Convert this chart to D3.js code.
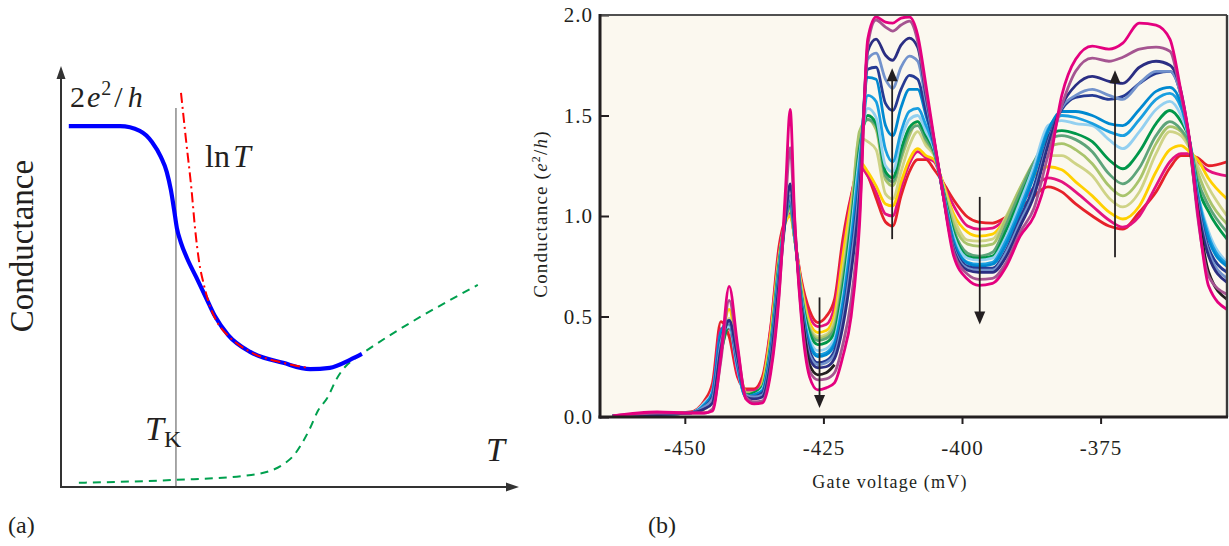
<!DOCTYPE html>
<html>
<head>
<meta charset="utf-8">
<script src="https://cdn.jsdelivr.net/npm/d3@7"></script>
<style>
  body { margin: 0; background: #fff; }
  svg { display: block; }
  text { font-family: "Liberation Serif", "Times New Roman", serif; fill: #231f20; }
</style>
</head>
<body>
<svg id="chart" width="1229" height="546"></svg>
<script>
// ---- panel (a): schematic, arbitrary units (T, G) ----
const kondoCurve = [[0.17,8.57],[1.29,8.57],[1.72,8.46],[1.99,8.19],[2.18,7.84],[2.31,7.48],[2.4,7.05],
  [2.47,6.58],[2.53,6.15],[2.62,5.8],[2.75,5.44],[2.95,4.99],[3.17,4.49],[3.36,4.06],[3.65,3.61],
  [4.13,3.21],[4.85,2.95],[5.44,2.8],[5.87,2.83],[6.31,3.02],[6.57,3.16]];
const lnTFit = [[2.62,9.36],[2.73,8.24],[2.85,7.06],[2.93,6.11],[3.01,5.39],[3.12,4.8],[3.25,4.3],
  [3.43,3.88],[3.69,3.55],[4.13,3.21],[4.85,2.95],[5.39,2.83]];
const phononCurve = [[0.39,0.1],[2.53,0.17],[3.95,0.26],[4.56,0.38],[4.87,0.55],[5.09,0.76],[5.24,1.0],
  [5.44,1.4],[5.61,1.81],[5.81,2.11],[6.03,2.59],[6.2,2.85],[6.38,3.02],[6.59,3.18],[9.1,4.8]];
const kondoT = 2.51, kondoTop = 9.0;

// ---- panel (b): conductance vs gate voltage, one trace per temperature ----
const gateV = [-463,-455,-449,-446.5,-445,-443.5,-442,-440.5,-439,-437.5,-436,-434.5,-433,-431.8,-431,
  -430.2,-429,-427.5,-426,-424.5,-423,-421.5,-420,-418.5,-417,-415.5,-413.8,-412.5,-411,-409.5,-408,
  -406.5,-405,-403.5,-401.5,-399,-397,-394.5,-392,-389.5,-387,-384.5,-382,-379.5,-376.5,-373.5,-371,
  -368,-365,-362.5,-360.5,-359,-357.5,-355.5,-352.2];

const gMagenta = [0.005,0.025,0.02,0.02,0.03, 0.3,0.65,0.36,0.09,0.065, 0.07,0.22,0.6,1.15,1.53,
  1.0,0.5,0.2,0.135,0.145, 0.17,0.3,0.5,0.95,1.88, 1.99,1.965,1.96,1.985,1.99, 1.9,1.65,1.38,1.12,0.8,
  0.685,0.655,0.665,0.75,0.9, 1.0,1.22,1.6,1.78,1.845, 1.83,1.86,1.96,1.95,1.88, 1.62,1.39,1.02,0.65,0.535];
const gMauve = [0.005,0.02,0.02,0.02,0.04, 0.28,0.58,0.34,0.1,0.075, 0.08,0.24,0.62,1.08,1.34,
  0.98,0.52,0.23,0.185,0.19, 0.22,0.36,0.58,1.0,1.85, 1.975,1.94,1.92,1.95,1.97, 1.87,1.62,1.37,1.12,0.82,
  0.71,0.685,0.69,0.77,0.92, 1.04,1.3,1.55,1.72,1.785, 1.77,1.79,1.83,1.84,1.82, 1.6,1.38,1.0,0.7,0.61];
const gBlack = [null,null,null,null,null, null,null,null,null,null, null,null,null,null,null,
  null,0.54,0.26,0.21,0.22, 0.26,null,null,null,null, null,null,null,null,null, null,null,null,null,null,
  null,null,null,null,null, null,null,null,null,null, null,null,null,null,null, null,1.37,1.03,0.72,0.585];
const gNavy = [0.005,0.012,0.02,0.04,0.07, 0.34,0.48,0.3,0.1,0.09, 0.1,0.28,0.67,1.0,1.16,
  0.94,0.55,0.29,0.245,0.25, 0.29,0.45,0.72,1.1,1.82, 1.88,1.8,1.775,1.85,1.885, 1.84,1.6,1.37,1.12,0.83,
  0.73,0.72,0.72,0.8,0.95, 1.1,1.35,1.55,1.65,1.695, 1.67,1.66,1.74,1.77,1.75, 1.62,1.38,1.05,0.8,0.67];
const gSteel = [0.005,0.012,0.02,0.05,0.09, 0.37,0.47,0.28,0.11,0.1, 0.11,0.3,0.69,1.0,1.1,
  0.93,0.56,0.31,0.26,0.27, 0.31,0.48,0.77,1.15,1.78, 1.81,1.68,1.635,1.74,1.795, 1.77,1.57,1.36,1.12,0.84,
  0.74,0.73,0.73,0.82,0.97, 1.12,1.36,1.54,1.6,1.63, 1.6,1.58,1.66,1.72,1.72, 1.6,1.38,1.07,0.82,0.69];
const gNavy2 = [0.005,0.012,0.02,0.05,0.1, 0.38,0.47,0.27,0.11,0.1, 0.12,0.31,0.7,1.0,1.1,
  0.92,0.57,0.33,0.27,0.28, 0.33,0.5,0.8,1.18,1.73, 1.74,1.56,1.525,1.63,1.7, 1.68,1.52,1.35,1.12,0.85,
  0.75,0.74,0.74,0.83,0.99, 1.15,1.38,1.53,1.59,1.6, 1.58,1.595,1.66,1.71,1.72, 1.6,1.38,1.08,0.84,0.72];
const gBlue = [0.005,0.012,0.02,0.06,0.12, 0.42,0.48,0.26,0.1,0.11, 0.13,0.33,0.72,1.0,1.09,
  0.92,0.58,0.36,0.3,0.31, 0.36,0.55,0.85,1.22,1.69, 1.68,1.45,1.4,1.54,1.63, 1.63,1.5,1.35,1.13,0.87,
  0.765,0.75,0.76,0.86,1.02, 1.2,1.42,1.52,1.52,1.5, 1.46,1.45,1.53,1.62,1.64, 1.56,1.38,1.1,0.88,0.75];
const gBlue2 = [0.005,0.012,0.02,0.06,0.12, 0.42,0.47,0.25,0.1,0.11, 0.13,0.34,0.73,1.0,1.08,
  0.91,0.59,0.37,0.31,0.32, 0.37,0.57,0.88,1.26,1.6, 1.57,1.33,1.27,1.42,1.52, 1.535,1.45,1.34,1.13,0.88,
  0.77,0.76,0.77,0.88,1.04, 1.22,1.43,1.5,1.49,1.46, 1.42,1.4,1.48,1.58,1.61, 1.54,1.38,1.11,0.9,0.76];
const gLightBlue = [0.005,0.012,0.02,0.07,0.13, 0.4,0.45,0.24,0.1,0.11, 0.14,0.34,0.74,1.0,1.08,
  0.9,0.6,0.39,0.33,0.34, 0.39,0.6,0.92,1.3,1.535, 1.49,1.25,1.22,1.38,1.48, 1.5,1.42,1.33,1.13,0.9,
  0.79,0.78,0.79,0.9,1.07, 1.25,1.45,1.475,1.46,1.45, 1.38,1.335,1.42,1.53,1.57, 1.5,1.38,1.12,0.92,0.77];
const gGreen = [0.005,0.012,0.02,0.05,0.1, 0.32,0.45,0.25,0.11,0.12, 0.15,0.36,0.76,1.0,1.06,
  0.9,0.61,0.42,0.36,0.37, 0.42,0.64,0.96,1.33,1.5, 1.46,1.22,1.19,1.33,1.44, 1.47,1.4,1.32,1.14,0.92,
  0.8,0.79,0.8,0.93,1.09, 1.25,1.4,1.425,1.41,1.37, 1.28,1.235,1.32,1.46,1.525, 1.47,1.38,1.15,1.02,0.885];
const gSea = [0.005,0.012,0.02,0.05,0.1, 0.32,0.46,0.25,0.11,0.12, 0.15,0.37,0.77,0.99,1.05,
  0.89,0.62,0.43,0.38,0.39, 0.44,0.67,0.98,1.35,1.48, 1.45,1.2,1.17,1.3,1.42, 1.45,1.38,1.31,1.14,0.93,
  0.815,0.8,0.82,0.96,1.12, 1.27,1.38,1.4,1.38,1.32, 1.21,1.16,1.24,1.4,1.47, 1.43,1.36,1.18,1.05,0.92];
const gOlive = [0.005,0.012,0.02,0.05,0.1, 0.33,0.47,0.26,0.12,0.12, 0.16,0.38,0.78,0.99,1.04,
  0.89,0.63,0.44,0.39,0.4, 0.46,0.7,1.0,1.42,1.48, 1.43,1.18,1.15,1.28,1.4, 1.47,1.37,1.31,1.15,0.96,
  0.86,0.85,0.86,0.99,1.14, 1.27,1.34,1.36,1.33,1.26, 1.15,1.1,1.18,1.36,1.445, 1.42,1.35,1.22,1.085,0.96];
const gKhaki = [0.005,0.012,0.02,0.05,0.1, 0.34,0.49,0.27,0.12,0.12, 0.16,0.39,0.78,0.98,1.03,
  0.89,0.64,0.45,0.4,0.41, 0.48,0.73,1.03,1.39,1.37, 1.33,1.11,1.085,1.22,1.35, 1.42,1.35,1.3,1.16,0.99,
  0.88,0.875,0.885,1.0,1.14, 1.25,1.3,1.3,1.26,1.2, 1.09,1.045,1.12,1.31,1.42, 1.4,1.34,1.25,1.14,1.0];
const gYellow = [0.005,0.012,0.02,0.04,0.08, 0.35,0.535,0.3,0.12,0.1, 0.17,0.42,0.8,0.97,1.0,
  0.89,0.66,0.47,0.42,0.43, 0.51,0.8,1.07,1.27,1.22, 1.15,1.06,1.05,1.17,1.28, 1.335,1.3,1.28,1.17,1.01,
  0.92,0.9,0.91,0.99,1.1, 1.2,1.245,1.23,1.17,1.1, 1.02,0.985,1.05,1.22,1.33, 1.35,1.32,1.28,1.185,1.085];
const gPink = [0.005,0.012,0.02,0.06,0.14, 0.44,0.44,0.22,0.13,0.13, 0.18,0.44,0.82,0.98,1.02,
  0.89,0.67,0.5,0.45,0.46, 0.55,0.84,1.09,1.25,1.2, 1.12,1.01,1.0,1.14,1.26, 1.32,1.29,1.27,1.17,1.05,
  0.95,0.935,0.94,0.99,1.06, 1.14,1.19,1.17,1.12,1.05, 0.98,0.945,1.0,1.15,1.27, 1.31,1.31,1.27,1.225,1.2];
const gRed = [0.005,0.015,0.025,0.08,0.17, 0.475,0.4,0.2,0.14,0.14, 0.2,0.45,0.85,0.99,1.025,
  0.89,0.685,0.53,0.47,0.5, 0.585,0.885,1.1,1.245,1.2, 1.09,0.97,0.95,1.1,1.22, 1.28,1.28,1.23,1.17,1.08,
  0.995,0.97,0.965,0.995,1.04, 1.1,1.145,1.12,1.06,1.0, 0.95,0.935,1.02,1.12,1.24, 1.3,1.3,1.29,1.25,1.27];

// highest temperature first, so the coldest trace ends up on top
const traces = [
  { color: '#e6212a', g: gRed },
  { color: '#e4137f', g: gPink },
  { color: '#ffd000', g: gYellow },
  { color: '#cfd386', g: gKhaki },
  { color: '#a9c46c', g: gOlive },
  { color: '#5ea47a', g: gSea },
  { color: '#00974a', g: gGreen },
  { color: '#93d0f0', g: gLightBlue },
  { color: '#1a9fe0', g: gBlue2 },
  { color: '#0089d0', g: gBlue },
  { color: '#263a93', g: gNavy2 },
  { color: '#7393cc', g: gSteel },
  { color: '#2b2e83', g: gNavy },
  { color: '#231f20', g: gBlack },
  { color: '#a55591', g: gMauve },
  { color: '#e4007f', g: gMagenta }
];

const yTicks = [0, 0.5, 1.0, 1.5, 2.0];
const xTicks = [-450, -425, -400, -375];
// arrows: gate voltage, start and end conductance
const arrowsB = [[-425.7, 0.595, 0.045], [-412.6, 0.885, 1.735], [-396.8, 1.095, 0.46], [-372.4, 0.795, 1.725]];

const svg = d3.select('#chart');
const ink = '#231f20';

// ================= panel (a) =================
const xA = d3.scaleLinear().domain([0, 10]).range([61, 519]);
const yA = d3.scaleLinear().domain([0, 10]).range([487, 66]);
const lineA = d3.line().x(d => xA(d[0])).y(d => yA(d[1])).curve(d3.curveMonotoneX);
const gA = svg.append('g');

gA.append('line')
  .attr('x1', xA(kondoT)).attr('x2', xA(kondoT))
  .attr('y1', yA(0)).attr('y2', yA(kondoTop))
  .attr('stroke', '#6d6d6d').attr('stroke-width', 1.2);

gA.append('path').attr('d', lineA(phononCurve))
  .attr('fill', 'none').attr('stroke', '#00a04e').attr('stroke-width', 2)
  .attr('stroke-dasharray', '8,6');

gA.append('path').attr('d', lineA(kondoCurve))
  .attr('fill', 'none').attr('stroke', '#0000ff').attr('stroke-width', 4.2)
  .attr('stroke-linecap', 'butt');

gA.append('path').attr('d', lineA(lnTFit))
  .attr('fill', 'none').attr('stroke', '#ff0000').attr('stroke-width', 2)
  .attr('stroke-dasharray', '10,4,2,4');

// axes with arrow heads
gA.append('path')
  .attr('d', `M${xA(0)},${yA(10) + 10}V${yA(0)}H${xA(10) - 10}`)
  .attr('fill', 'none').attr('stroke', '#333').attr('stroke-width', 2);
gA.append('path')
  .attr('d', `M${xA(0)},${yA(10)}l-4.5,13h9z M${xA(10)},${yA(0)}l-13,-4.5v9z`)
  .attr('fill', '#333');

const t2 = gA.append('text').attr('x', 70).attr('y', 107).attr('font-size', 30);
t2.append('tspan').text('2');
t2.append('tspan').attr('dx', 2).attr('font-style', 'italic').text('e');
t2.append('tspan').attr('dx', 1).attr('dy', -12).attr('font-size', 20).text('2');
t2.append('tspan').attr('dx', 3).attr('dy', 12).text('/');
t2.append('tspan').attr('dx', 5).attr('font-style', 'italic').text('h');

const tln = gA.append('text').attr('x', 205).attr('y', 167).attr('font-size', 32);
tln.append('tspan').text('ln');
tln.append('tspan').attr('dx', 3).attr('font-style', 'italic').text('T');

const tk = gA.append('text').attr('x', 145).attr('y', 440).attr('font-size', 34);
tk.append('tspan').attr('font-style', 'italic').text('T');
tk.append('tspan').attr('dx', 0).attr('dy', 7).attr('font-size', 24).text('K');

gA.append('text').attr('x', 486).attr('y', 461).attr('font-size', 34)
  .attr('font-style', 'italic').text('T');

gA.append('text').attr('transform', 'translate(33,246) rotate(-90)')
  .attr('text-anchor', 'middle').attr('font-size', 33).text('Conductance');

gA.append('text').attr('x', 8).attr('y', 533).attr('font-size', 24).text('(a)');

// ================= panel (b) =================
const plotL = 600, plotR = 1227, plotT = 15, plotB = 417;
const xB = d3.scaleLinear().domain([-465.3, -352.2]).range([plotL, plotR]);
const yB = d3.scaleLinear().domain([0, 2]).range([plotB, plotT]);
const gB = svg.append('g');

gB.append('rect').attr('x', plotL).attr('y', plotT)
  .attr('width', plotR - plotL).attr('height', plotB - plotT).attr('fill', '#fbf8ef');

svg.append('clipPath').attr('id', 'plotClip').append('rect')
  .attr('x', plotL).attr('y', plotT - 2).attr('width', plotR - plotL).attr('height', plotB - plotT + 2);

const lineB = d3.line()
  .defined(d => d[1] != null)
  .x(d => xB(d[0])).y(d => yB(d[1]))
  .curve(d3.curveMonotoneX);

gB.append('g').attr('clip-path', 'url(#plotClip)')
  .selectAll('path').data(traces).join('path')
  .attr('d', t => lineB(gateV.map((v, i) => [v, t.g[i]])))
  .attr('fill', 'none')
  .attr('stroke', t => t.color)
  .attr('stroke-width', 2.8)
  .attr('stroke-linejoin', 'round');

// arrows
arrowsB.forEach(([v, from, to]) => {
  const x = xB(v), y0 = yB(from), y1 = yB(to);
  const dir = y1 < y0 ? 1 : -1;
  gB.append('line').attr('x1', x).attr('x2', x).attr('y1', y0).attr('y2', y1 + dir * 10)
    .attr('stroke', ink).attr('stroke-width', 1.8);
  gB.append('path')
    .attr('d', `M${x},${y1}l-5.5,${dir * 13}h11z`)
    .attr('fill', ink);
});

// axes
const yAxis = d3.axisLeft(yB).tickValues(yTicks).tickSize(-9).tickPadding(7)
  .tickFormat(d3.format('.1f'));
const xAxis = d3.axisBottom(xB).tickValues(xTicks).tickSize(7).tickPadding(16)
  .tickFormat(d => String(d));

const ya = gB.append('g').attr('transform', `translate(${plotL},0)`).call(yAxis);
const xa = gB.append('g').attr('transform', `translate(0,${plotB})`).call(xAxis);
[ya, xa].forEach(a => {
  a.select('.domain').remove();
  a.selectAll('line').attr('stroke', ink).attr('stroke-width', 2);
  a.selectAll('text').attr('font-family', '"Liberation Serif", serif')
    .attr('font-size', 21).attr('letter-spacing', 1).attr('fill', ink);
});

// frame
gB.append('line').attr('x1', plotL).attr('x2', plotR).attr('y1', plotT).attr('y2', plotT)
  .attr('stroke', '#505050').attr('stroke-width', 2);
gB.append('line').attr('x1', plotR).attr('x2', plotR).attr('y1', plotT).attr('y2', plotB)
  .attr('stroke', '#3a3a3a').attr('stroke-width', 2.4);
gB.append('line').attr('x1', plotL).attr('x2', plotL).attr('y1', plotT - 1).attr('y2', plotB + 1.5)
  .attr('stroke', ink).attr('stroke-width', 3);
gB.append('line').attr('x1', plotL - 1.5).attr('x2', plotR + 1).attr('y1', plotB).attr('y2', plotB)
  .attr('stroke', ink).attr('stroke-width', 3);

gB.append('text').attr('x', 890).attr('y', 488).attr('text-anchor', 'middle')
  .attr('font-size', 18).attr('letter-spacing', 1.2).text('Gate voltage (mV)');

const yl = gB.append('text').attr('transform', 'translate(547,214) rotate(-90)')
  .attr('text-anchor', 'middle').attr('font-size', 19).attr('letter-spacing', 1.2);
yl.append('tspan').text('Conductance (');
yl.append('tspan').attr('font-style', 'italic').text('e');
yl.append('tspan').attr('dy', -7).attr('font-size', 12).text('2');
yl.append('tspan').attr('dy', 7).text('/');
yl.append('tspan').attr('font-style', 'italic').text('h');
yl.append('tspan').text(')');

gB.append('text').attr('x', 648).attr('y', 533).attr('font-size', 24).text('(b)');
</script>
</body>
</html>
